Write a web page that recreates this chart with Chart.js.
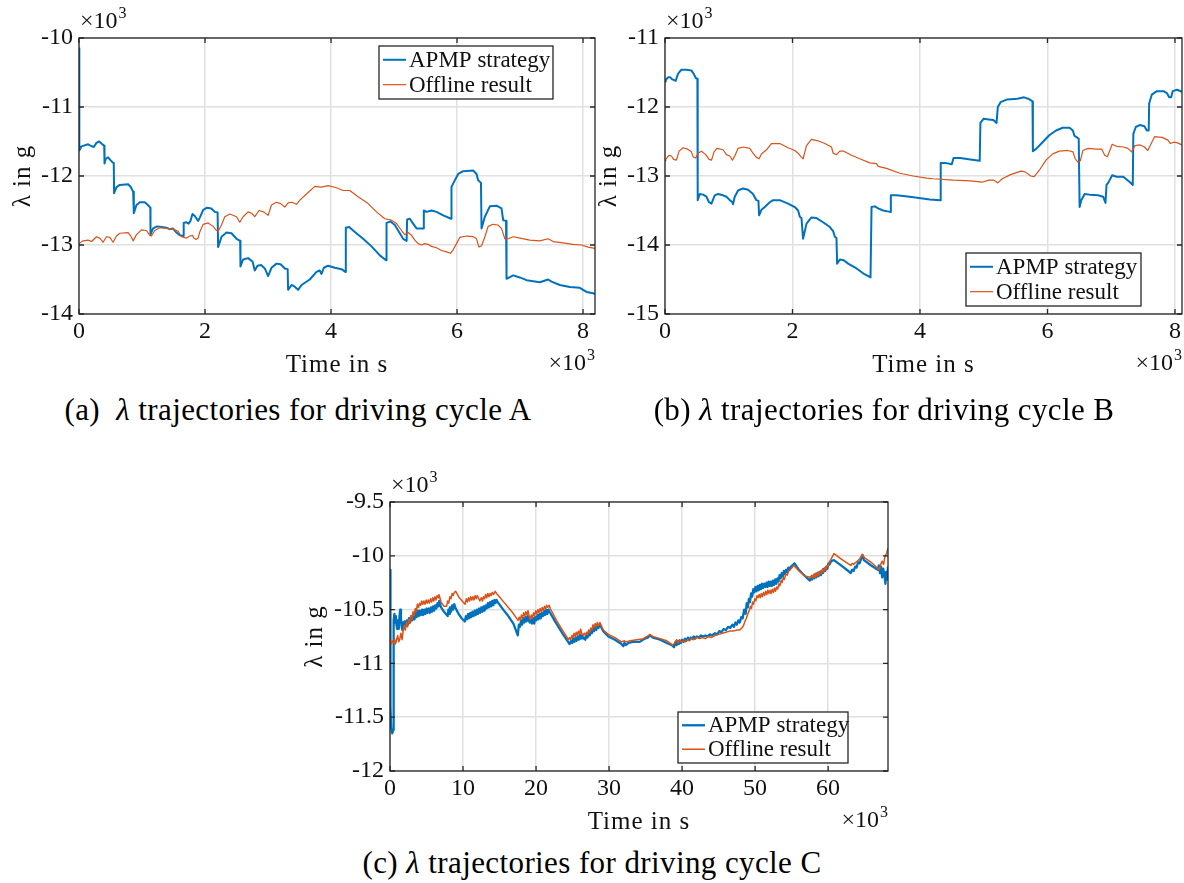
<!DOCTYPE html>
<html>
<head>
<meta charset="utf-8">
<title>λ trajectories</title>
<script src="https://cdn.jsdelivr.net/npm/chart.js@4.4.1/dist/chart.umd.min.js"></script>
<style>
  html, body { margin: 0; padding: 0; background: #fff; }
  body { position: relative; width: 1184px; height: 883px; overflow: hidden; font-family: 'Liberation Serif', 'DejaVu Serif', serif; color: #000; }
  canvas { position: absolute; }
  .caption { position: absolute; font-size: 31px; white-space: pre; transform: translate(-50%, -50%); letter-spacing: 0.4px; }
</style>
</head>
<body>
<canvas id="chartA" width="600" height="385" style="left:0;top:0"></canvas>
<canvas id="chartB" width="594" height="385" style="left:590px;top:0"></canvas>
<canvas id="chartC" width="600" height="385" style="left:300px;top:455px"></canvas>
<div class="caption" style="left:298px;top:410px">(a)  <i>λ</i> trajectories for driving cycle A</div>
<div class="caption" style="left:884px;top:410px">(b) <i>λ</i> trajectories for driving cycle B</div>
<div class="caption" style="left:592px;top:863px">(c) <i>λ</i> trajectories for driving cycle C</div>

<script>
// series names and tick values (axes are labelled in units of 10^3)
const SERIES_NAMES = ['APMP strategy', 'Offline result'];
const X_TICKS_AB = [0, 2, 4, 6, 8];
const X_TICKS_C = [0, 10, 20, 30, 40, 50, 60];
const Y_TICKS_A = [-14, -13, -12, -11, -10];
const Y_TICKS_B = [-15, -14, -13, -12, -11];
const Y_TICKS_C = [-12, -11.5, -11, -10.5, -10, -9.5];

// [time in s, lambda in g]
const cycleA_apmp = [[0,-10150],[5,-11630],[40,-11570],[145,-11540],[180,-11560],[235,-11580],[277,-11520],[320,-11500],[357,-11530],[383,-11550],[400,-11560],[405,-11820],[425,-11750],[462,-11730],[500,-11770],[541,-11810],[552,-11820],[557,-12250],[595,-12160],[648,-12130],[780,-12120],[822,-12160],[860,-12230],[870,-12540],[912,-12420],[965,-12380],[1044,-12380],[1081,-12410],[1124,-12450],[1132,-12460],[1135,-12850],[1176,-12760],[1240,-12730],[1310,-12740],[1387,-12750],[1441,-12770],[1490,-12760],[1537,-12810],[1600,-12860],[1652,-12870],[1660,-12870],[1663,-12680],[1700,-12670],[1740,-12690],[1770,-12650],[1801,-12550],[1838,-12580],[1891,-12650],[1920,-12600],[1971,-12490],[2033,-12460],[2100,-12470],[2156,-12520],[2200,-12530],[2208,-13030],[2262,-12880],[2341,-12820],[2420,-12830],[2500,-12910],[2558,-12940],[2563,-13310],[2605,-13210],[2684,-13190],[2754,-13240],[2790,-13370],[2833,-13300],[2890,-13290],[2949,-13340],[3002,-13450],[3055,-13330],[3135,-13270],[3200,-13280],[3267,-13340],[3312,-13350],[3319,-13650],[3373,-13580],[3420,-13600],[3478,-13650],[3532,-13580],[3663,-13500],[3770,-13390],[3820,-13370],[3849,-13420],[3886,-13330],[3954,-13300],[4060,-13330],[4167,-13350],[4228,-13390],[4235,-12750],[4288,-12740],[4378,-12810],[4510,-12910],[4643,-13020],[4775,-13150],[4874,-13220],[4881,-12680],[4944,-12660],[5013,-12710],[5092,-12830],[5145,-12910],[5200,-12940],[5208,-12630],[5251,-12620],[5303,-12690],[5357,-12760],[5465,-12760],[5473,-12500],[5516,-12520],[5595,-12500],[5675,-12520],[5780,-12570],[5905,-12620],[5912,-12160],[5938,-12110],[6018,-11970],[6097,-11930],[6256,-11920],[6310,-11970],[6335,-12060],[6380,-12100],[6389,-12760],[6442,-12590],[6521,-12440],[6627,-12430],[6706,-12470],[6733,-12640],[6778,-12650],[6786,-13490],[6891,-13440],[6997,-13470],[7103,-13510],[7315,-13540],[7446,-13500],[7500,-13530],[7632,-13580],[7790,-13610],[7949,-13620],[8055,-13680],[8161,-13700],[8190,-13710]];
const cycleA_offline = [[0,-12980],[65,-12940],[145,-12930],[200,-12950],[277,-12880],[330,-12900],[383,-12960],[436,-12880],[490,-12890],[541,-12960],[595,-12870],[648,-12830],[780,-12820],[822,-12870],[860,-12940],[912,-12850],[992,-12780],[1070,-12790],[1124,-12860],[1150,-12870],[1203,-12790],[1282,-12750],[1400,-12760],[1494,-12770],[1573,-12800],[1627,-12880],[1706,-12900],[1760,-12870],[1801,-12860],[1822,-12900],[1860,-12920],[1891,-12900],[1917,-12810],[1971,-12700],[2050,-12680],[2129,-12730],[2183,-12790],[2208,-12800],[2262,-12710],[2314,-12590],[2394,-12550],[2500,-12590],[2552,-12670],[2605,-12590],[2684,-12520],[2740,-12540],[2790,-12590],[2859,-12500],[2930,-12520],[3002,-12570],[3055,-12420],[3135,-12380],[3200,-12400],[3267,-12450],[3319,-12390],[3380,-12380],[3452,-12410],[3505,-12350],[3611,-12260],[3743,-12150],[3849,-12160],[3954,-12140],[4087,-12170],[4192,-12210],[4298,-12210],[4430,-12300],[4589,-12400],[4722,-12520],[4854,-12620],[4960,-12640],[5040,-12690],[5119,-12790],[5171,-12850],[5224,-12820],[5278,-12860],[5330,-12930],[5383,-12980],[5436,-13000],[5489,-12980],[5540,-12990],[5595,-13020],[5675,-13040],[5754,-13080],[5833,-13100],[5897,-13120],[5938,-13070],[5992,-12980],[6044,-12890],[6151,-12870],[6256,-12880],[6310,-12910],[6347,-13030],[6390,-13010],[6442,-12880],[6494,-12730],[6573,-12700],[6650,-12710],[6706,-12760],[6759,-12910],[6811,-12910],[6891,-12880],[6997,-12900],[7155,-12930],[7315,-12940],[7446,-12910],[7526,-12950],[7685,-12970],[7843,-12990],[7976,-13000],[8081,-13030],[8190,-13050]];

const cycleB_apmp = [[0,-11630],[11,-11610],[47,-11570],[80,-11570],[116,-11600],[168,-11620],[204,-11520],[257,-11460],[336,-11460],[414,-11470],[451,-11520],[482,-11580],[508,-11590],[513,-13350],[545,-13260],[597,-13270],[650,-13300],[691,-13380],[729,-13400],[780,-13280],[832,-13260],[911,-13280],[964,-13300],[1016,-13350],[1058,-13380],[1067,-13410],[1094,-13300],[1146,-13210],[1224,-13180],[1303,-13200],[1381,-13260],[1434,-13350],[1466,-13360],[1476,-13570],[1513,-13490],[1565,-13450],[1644,-13380],[1695,-13350],[1800,-13350],[1931,-13400],[2036,-13450],[2088,-13500],[2115,-13590],[2141,-13610],[2166,-13910],[2220,-13690],[2298,-13600],[2377,-13610],[2480,-13670],[2586,-13740],[2638,-13800],[2664,-13880],[2690,-13900],[2700,-14270],[2743,-14210],[2805,-14220],[2873,-14270],[3005,-14340],[3108,-14410],[3224,-14470],[3240,-13450],[3292,-13440],[3344,-13470],[3422,-13500],[3530,-13520],[3543,-13280],[3632,-13280],[3841,-13300],[4155,-13340],[4316,-13350],[4325,-12810],[4394,-12810],[4499,-12830],[4526,-12740],[4631,-12740],[4790,-12760],[4937,-12780],[4948,-12230],[5000,-12170],[5080,-12180],[5150,-12190],[5201,-12230],[5221,-12000],[5264,-11930],[5369,-11890],[5527,-11880],[5633,-11860],[5697,-11880],[5755,-11910],[5765,-11920],[5771,-12640],[5818,-12610],[5923,-12510],[6028,-12410],[6134,-12340],[6240,-12300],[6346,-12300],[6398,-12340],[6424,-12420],[6462,-12440],[6490,-12460],[6504,-13450],[6530,-13350],[6583,-13260],[6662,-13270],[6794,-13280],[6873,-13300],[6910,-13390],[6926,-13130],[6952,-13100],[7015,-12990],[7084,-13010],[7190,-13010],[7242,-13050],[7294,-13090],[7338,-13130],[7347,-12390],[7385,-12290],[7453,-12260],[7520,-12280],[7558,-12340],[7588,-12340],[7595,-11950],[7637,-11820],[7716,-11770],[7821,-11770],[7874,-11800],[7910,-11860],[7940,-11860],[7964,-11770],[8033,-11750],[8110,-11780]];
const cycleB_offline = [[0,-12780],[11,-12760],[63,-12700],[100,-12710],[137,-12760],[179,-12770],[220,-12640],[283,-12590],[350,-12610],[414,-12650],[440,-12720],[482,-12740],[518,-12670],[571,-12640],[639,-12690],[691,-12760],[730,-12770],[769,-12650],[816,-12600],[911,-12620],[964,-12690],[1016,-12710],[1058,-12770],[1100,-12700],[1146,-12600],[1224,-12580],[1330,-12600],[1381,-12670],[1434,-12730],[1476,-12750],[1513,-12680],[1592,-12620],[1670,-12530],[1800,-12530],[1931,-12590],[2036,-12630],[2088,-12670],[2141,-12730],[2166,-12750],[2220,-12560],[2298,-12470],[2402,-12490],[2507,-12530],[2612,-12580],[2638,-12670],[2690,-12690],[2743,-12640],[2805,-12640],[2926,-12700],[3083,-12760],[3214,-12810],[3318,-12820],[3344,-12860],[3476,-12890],[3684,-12960],[3894,-13000],[4103,-13030],[4209,-13040],[4526,-13060],[4790,-13070],[4973,-13090],[5080,-13060],[5160,-13060],[5221,-13100],[5290,-13040],[5422,-12980],[5581,-12930],[5650,-12940],[5738,-13000],[5791,-13010],[5870,-12920],[5977,-12770],[6082,-12680],[6187,-12640],[6319,-12630],[6400,-12650],[6435,-12750],[6478,-12800],[6515,-12780],[6556,-12630],[6636,-12600],[6768,-12610],[6850,-12610],[6898,-12700],[6940,-12720],[7015,-12540],[7084,-12570],[7190,-12580],[7260,-12600],[7320,-12650],[7373,-12560],[7453,-12550],[7520,-12580],[7573,-12630],[7610,-12560],[7680,-12430],[7796,-12440],[7890,-12480],[7928,-12530],[7980,-12510],[8040,-12520],[8110,-12550]];

const cycleC_apmp = [[0,-10130],[60,-11400],[150,-11600],[300,-11650],[450,-11620],[500,-10600],[600,-10540],[700,-10620],[800,-10560],[900,-10650],[1000,-10680],[1100,-10600],[1200,-10680],[1300,-10560],[1400,-10500],[1500,-10580],[1600,-10660],[1700,-10690],[1800,-10620],[1900,-10660],[2000,-10610],[2150,-10650],[2300,-10600],[2450,-10640],[2600,-10580],[2750,-10620],[2900,-10560],[3050,-10600],[3200,-10550],[3350,-10590],[3500,-10530],[3650,-10570],[3800,-10510],[3950,-10560],[4100,-10510],[4250,-10550],[4400,-10500],[4550,-10550],[4700,-10500],[4850,-10540],[5000,-10490],[5150,-10530],[5300,-10490],[5450,-10530],[5600,-10480],[5750,-10520],[5900,-10470],[6050,-10510],[6200,-10460],[6350,-10490],[6500,-10440],[6650,-10470],[6750,-10420],[7000,-10480],[7400,-10520],[7900,-10560],[8000,-10500],[8100,-10540],[8200,-10480],[8350,-10520],[8500,-10460],[8650,-10500],[8800,-10450],[9000,-10490],[9400,-10540],[9800,-10580],[10250,-10610],[10400,-10560],[10550,-10590],[10700,-10540],[10850,-10580],[11000,-10530],[11150,-10570],[11300,-10520],[11450,-10560],[11600,-10510],[11750,-10550],[11900,-10500],[12050,-10540],[12200,-10490],[12350,-10530],[12500,-10480],[12650,-10520],[12800,-10470],[12950,-10510],[13100,-10460],[13250,-10490],[13400,-10440],[13550,-10480],[13700,-10430],[13850,-10470],[14000,-10420],[14150,-10460],[14300,-10410],[14450,-10440],[14600,-10410],[14750,-10430],[15500,-10500],[16200,-10560],[16900,-10630],[17500,-10740],[17650,-10640],[17800,-10660],[17950,-10600],[18100,-10640],[18250,-10580],[18400,-10620],[18550,-10570],[18700,-10610],[18850,-10560],[19000,-10600],[19150,-10620],[19300,-10590],[19450,-10630],[19600,-10580],[19750,-10630],[19900,-10570],[20050,-10600],[20200,-10550],[20350,-10590],[20500,-10540],[20650,-10580],[20800,-10530],[20950,-10560],[21100,-10510],[21250,-10550],[21400,-10500],[21550,-10540],[21700,-10500],[21850,-10520],[22600,-10610],[23700,-10730],[24600,-10820],[24800,-10790],[24950,-10810],[25100,-10770],[25250,-10800],[25400,-10760],[25550,-10790],[25700,-10750],[25850,-10780],[26000,-10730],[26150,-10770],[26300,-10740],[26450,-10770],[26600,-10760],[26750,-10780],[26900,-10740],[27050,-10760],[27200,-10720],[27350,-10740],[27500,-10690],[27650,-10720],[27800,-10680],[27950,-10700],[28100,-10650],[28250,-10690],[28400,-10640],[28550,-10670],[28750,-10640],[29200,-10700],[29900,-10750],[30800,-10780],[31700,-10820],[31950,-10840],[32100,-10810],[32300,-10830],[32650,-10810],[33300,-10800],[34200,-10800],[34900,-10770],[35300,-10760],[35600,-10740],[36000,-10760],[37000,-10780],[37900,-10810],[38600,-10830],[38900,-10850],[39100,-10800],[39250,-10830],[39400,-10790],[39550,-10820],[39700,-10790],[39850,-10810],[40000,-10780],[40200,-10800],[40400,-10770],[40600,-10790],[40800,-10760],[41000,-10780],[41200,-10760],[41400,-10770],[41600,-10750],[41800,-10770],[42000,-10750],[42300,-10760],[42600,-10740],[42900,-10750],[43200,-10740],[43500,-10750],[43800,-10730],[44100,-10740],[44500,-10720],[44800,-10730],[45100,-10700],[45400,-10710],[45700,-10680],[46000,-10690],[46300,-10660],[46600,-10670],[46900,-10640],[47100,-10660],[47300,-10620],[47500,-10640],[47700,-10600],[47900,-10620],[48100,-10570],[48300,-10580],[48500,-10500],[48700,-10540],[48850,-10440],[49000,-10480],[49150,-10400],[49300,-10430],[49450,-10350],[49600,-10380],[49750,-10310],[49900,-10340],[50050,-10290],[50200,-10330],[50350,-10280],[50500,-10320],[50650,-10270],[50800,-10310],[50950,-10260],[51100,-10300],[51250,-10260],[51400,-10290],[51550,-10250],[51700,-10290],[51850,-10240],[52000,-10280],[52150,-10240],[52300,-10280],[52450,-10230],[52600,-10270],[52750,-10220],[52900,-10260],[53050,-10210],[53200,-10240],[53350,-10180],[53500,-10210],[53650,-10160],[53800,-10190],[53950,-10140],[54100,-10170],[54250,-10130],[54400,-10150],[54550,-10110],[54700,-10130],[54900,-10100],[55100,-10090],[55400,-10070],[56000,-10130],[56700,-10180],[57500,-10230],[57650,-10200],[57800,-10220],[57950,-10190],[58100,-10210],[58250,-10170],[58400,-10200],[58550,-10160],[58700,-10190],[58850,-10150],[59000,-10180],[59150,-10140],[59300,-10160],[59450,-10120],[59600,-10140],[59750,-10100],[59900,-10120],[60050,-10070],[60200,-10080],[60400,-10050],[60800,-10040],[62000,-10100],[63100,-10160],[63300,-10130],[63500,-10140],[63700,-10100],[63900,-10110],[64100,-10060],[64300,-10070],[64500,-10030],[64700,-9990],[64900,-10040],[65900,-10090],[66800,-10130],[66950,-10090],[67100,-10160],[67250,-10100],[67400,-10200],[67550,-10120],[67700,-10180],[67850,-10260],[67950,-10150],[68100,-10220],[68200,-10100]];
const cycleC_offline = [[0,-10780],[150,-10820],[300,-10790],[450,-10810],[600,-10770],[750,-10820],[900,-10780],[1050,-10740],[1200,-10800],[1350,-10770],[1500,-10720],[1650,-10780],[1800,-10700],[1950,-10650],[2100,-10690],[2250,-10620],[2400,-10660],[2550,-10590],[2700,-10630],[2850,-10560],[3000,-10590],[3150,-10520],[3300,-10560],[3450,-10490],[3600,-10520],[3750,-10450],[3900,-10480],[4050,-10440],[4200,-10460],[4350,-10420],[4500,-10450],[4650,-10420],[4800,-10450],[4950,-10410],[5100,-10440],[5250,-10410],[5400,-10440],[5550,-10400],[5700,-10430],[5850,-10390],[6000,-10420],[6150,-10380],[6300,-10410],[6450,-10370],[6600,-10390],[6700,-10360],[7000,-10430],[7400,-10470],[7750,-10470],[7900,-10420],[8050,-10440],[8200,-10380],[8350,-10400],[8500,-10350],[8650,-10370],[8800,-10340],[9000,-10330],[9500,-10390],[10000,-10430],[10270,-10450],[10450,-10400],[10600,-10430],[10750,-10390],[10900,-10420],[11050,-10380],[11200,-10410],[11350,-10380],[11500,-10410],[11650,-10370],[11800,-10400],[11950,-10370],[12100,-10390],[12300,-10420],[12500,-10390],[12650,-10420],[12800,-10380],[12950,-10400],[13100,-10360],[13250,-10390],[13400,-10350],[13550,-10380],[13700,-10350],[13850,-10370],[14000,-10340],[14200,-10360],[14400,-10330],[14600,-10350],[15700,-10440],[16700,-10520],[17550,-10600],[17700,-10570],[17850,-10600],[18000,-10550],[18150,-10580],[18300,-10530],[18450,-10560],[18600,-10520],[18750,-10550],[18900,-10510],[19050,-10560],[19200,-10590],[19350,-10550],[19500,-10580],[19650,-10530],[19800,-10560],[19950,-10510],[20100,-10540],[20250,-10500],[20400,-10530],[20550,-10490],[20700,-10520],[20850,-10480],[21000,-10510],[21150,-10470],[21300,-10490],[21450,-10460],[21600,-10480],[21800,-10460],[21950,-10490],[22800,-10600],[23700,-10700],[24450,-10780],[24600,-10760],[24750,-10780],[24900,-10740],[25050,-10760],[25200,-10720],[25350,-10750],[25500,-10710],[25650,-10740],[25800,-10700],[25950,-10730],[26100,-10680],[26250,-10720],[26450,-10740],[26600,-10720],[26750,-10740],[26900,-10710],[27050,-10730],[27200,-10690],[27350,-10710],[27500,-10670],[27650,-10690],[27800,-10640],[27950,-10670],[28100,-10630],[28250,-10660],[28400,-10620],[28550,-10650],[28750,-10620],[29200,-10690],[29900,-10730],[30800,-10760],[31700,-10800],[32100,-10790],[32300,-10800],[32900,-10790],[33800,-10780],[34700,-10770],[35200,-10750],[35600,-10730],[36000,-10750],[37000,-10770],[37900,-10790],[38700,-10830],[39000,-10810],[39250,-10780],[39450,-10810],[39650,-10780],[39850,-10800],[40100,-10790],[40400,-10800],[40700,-10780],[41000,-10790],[41300,-10770],[41600,-10780],[42000,-10760],[42400,-10770],[42800,-10760],[43200,-10770],[43600,-10750],[44000,-10760],[44500,-10740],[45000,-10730],[45500,-10720],[46000,-10710],[46500,-10700],[47000,-10700],[47500,-10690],[47900,-10690],[48200,-10670],[48400,-10650],[48600,-10610],[48800,-10580],[49000,-10540],[49200,-10510],[49350,-10470],[49500,-10490],[49650,-10430],[49800,-10450],[49950,-10400],[50100,-10420],[50250,-10370],[50400,-10390],[50550,-10360],[50700,-10390],[50850,-10350],[51000,-10380],[51150,-10340],[51300,-10370],[51450,-10330],[51600,-10360],[51750,-10320],[51900,-10350],[52050,-10320],[52200,-10350],[52350,-10310],[52500,-10340],[52650,-10300],[52800,-10330],[52950,-10290],[53100,-10310],[53250,-10260],[53400,-10280],[53550,-10230],[53700,-10250],[53850,-10200],[54000,-10220],[54200,-10170],[54400,-10180],[54600,-10140],[54800,-10130],[55300,-10090],[56000,-10140],[56900,-10190],[57600,-10200],[57750,-10180],[57900,-10210],[58050,-10170],[58200,-10200],[58350,-10160],[58500,-10190],[58650,-10150],[58800,-10180],[58950,-10140],[59100,-10160],[59250,-10120],[59400,-10150],[59550,-10110],[59700,-10130],[59850,-10090],[60000,-10100],[60150,-10060],[60400,-10030],[60800,-9980],[62000,-10040],[63100,-10090],[63300,-10070],[63500,-10080],[63800,-10060],[64000,-10050],[64300,-10030],[64700,-9990],[65000,-10020],[65900,-10060],[67000,-10130],[67200,-10080],[67400,-10050],[67600,-10080],[67800,-10000],[68000,-9980],[68200,-9930]];

const BLUE = '#0072BD';
const ORANGE = '#D95319';
const AXIS_COLOR = '#262626';
const FONT = "'Liberation Serif', 'DejaVu Serif', serif";

const toPoints = pairs => pairs.map(([t, v]) => ({ x: t, y: v }));

// "×10³" written with a raised exponent
function drawExponent(ctx, x, y, alignRight) {
  ctx.font = '24px ' + FONT;
  const base = '×10';
  const wb = ctx.measureText(base).width;
  ctx.font = '16px ' + FONT;
  const ws = ctx.measureText('3').width;
  const left = alignRight ? x - wb - ws - 1 : x;
  ctx.textAlign = 'left';
  ctx.textBaseline = 'alphabetic';
  ctx.font = '24px ' + FONT;
  ctx.fillText(base, left, y);
  ctx.font = '16px ' + FONT;
  ctx.fillText('3', left + wb + 1, y - 10);
}

// box, inward ticks, axis titles, exponents and legend, MATLAB style
function decorations(p) {
  return {
    id: 'decor',
    afterDatasetsDraw(chart) {
      const { ctx, chartArea: a, scales: { x, y } } = chart;
      ctx.save();
      ctx.strokeStyle = AXIS_COLOR;
      ctx.lineWidth = 1.3;
      ctx.beginPath();
      x.ticks.forEach(t => {
        const px = x.getPixelForValue(t.value);
        ctx.moveTo(px, a.bottom); ctx.lineTo(px, a.bottom - 5);
        ctx.moveTo(px, a.top); ctx.lineTo(px, a.top + 5);
      });
      y.ticks.forEach(t => {
        const py = y.getPixelForValue(t.value);
        ctx.moveTo(a.left, py); ctx.lineTo(a.left + 5, py);
        ctx.moveTo(a.right, py); ctx.lineTo(a.right - 5, py);
      });
      ctx.stroke();
      ctx.strokeRect(a.left, a.top, a.right - a.left, a.bottom - a.top);

      ctx.fillStyle = '#111';
      drawExponent(ctx, a.left + 1, a.top - 10, false);
      drawExponent(ctx, a.right, a.bottom + 56, true);

      ctx.font = '25px ' + FONT;
      ctx.letterSpacing = '1px';
      ctx.textAlign = 'center';
      ctx.textBaseline = 'alphabetic';
      ctx.fillText('Time in s', (a.left + a.right) / 2, a.bottom + 58);
      ctx.save();
      ctx.translate(p.yTitleX, (a.top + a.bottom) / 2);
      ctx.rotate(-Math.PI / 2);
      ctx.textBaseline = 'middle';
      ctx.fillText('λ in g', 0, 0);
      ctx.restore();
      ctx.letterSpacing = '0px';

      const lg = p.legend;
      ctx.fillStyle = '#fff';
      ctx.fillRect(lg.x, lg.y, lg.w, lg.h);
      ctx.strokeStyle = AXIS_COLOR;
      ctx.lineWidth = 1.3;
      ctx.strokeRect(lg.x, lg.y, lg.w, lg.h);
      ctx.font = '23px ' + FONT;
      ctx.textAlign = 'left';
      ctx.textBaseline = 'middle';
      chart.data.datasets.forEach((ds, i) => {
        const ry = lg.y + lg.h * (0.26 + 0.47 * i);
        ctx.strokeStyle = ds.borderColor;
        ctx.lineWidth = ds.borderWidth;
        ctx.beginPath();
        ctx.moveTo(lg.x + 4, ry);
        ctx.lineTo(lg.x + 27, ry);
        ctx.stroke();
        ctx.fillStyle = '#111';
        ctx.fillText(ds.label, lg.x + 30, ry + 1);
      });
      ctx.restore();
    }
  };
}

function buildChart(id, p) {
  const canvas = document.getElementById(id);
  return new Chart(canvas, {
    type: 'line',
    data: {
      datasets: [
        { label: SERIES_NAMES[0], data: toPoints(p.apmp), borderColor: BLUE, borderWidth: p.apmpWidth, order: 1 },
        { label: SERIES_NAMES[1], data: toPoints(p.offline), borderColor: ORANGE, borderWidth: p.offWidth, order: 0 }
      ]
    },
    options: {
      responsive: false,
      animation: false,
      events: [],
      layout: { padding: { top: p.area.top, right: canvas.width - p.area.right, left: 0, bottom: 0 } },
      elements: { point: { radius: 0 }, line: { tension: 0, borderJoinStyle: 'round' } },
      plugins: { legend: { display: false }, tooltip: { enabled: false } },
      scales: {
        x: {
          type: 'linear',
          min: 0,
          max: p.xMax,
          border: { display: false },
          grid: { color: '#e0e0e0', lineWidth: 1.5, drawTicks: false },
          ticks: { font: { family: FONT, size: 24 }, color: '#111', padding: 3, maxRotation: 0,
                   callback: v => String(v / 1000) },
          afterBuildTicks: s => { s.ticks = p.xTicks.map(v => ({ value: v * 1000 })); },
          afterFit: s => { s.height = canvas.height - p.area.bottom; }
        },
        y: {
          type: 'linear',
          min: p.yMin,
          max: p.yMax,
          border: { display: false },
          grid: { color: '#e0e0e0', lineWidth: 1.5, drawTicks: false },
          ticks: { font: { family: FONT, size: 24 }, color: '#111', padding: 6,
                   callback: v => String(v / 1000) },
          afterBuildTicks: s => { s.ticks = p.yTicks.map(v => ({ value: v * 1000 })); },
          afterFit: s => { s.width = p.area.left; }
        }
      }
    },
    plugins: [decorations(p)]
  });
}

buildChart('chartA', {
  apmp: cycleA_apmp, offline: cycleA_offline, apmpWidth: 2, offWidth: 1.2,
  xMax: 8190, yMin: -14000, yMax: -10000, xTicks: X_TICKS_AB, yTicks: Y_TICKS_A,
  area: { left: 79, top: 38, right: 595, bottom: 314 },
  yTitleX: 23,
  legend: { x: 379, y: 46, w: 174, h: 53 }
});

buildChart('chartB', {
  apmp: cycleB_apmp, offline: cycleB_offline, apmpWidth: 2, offWidth: 1.2,
  xMax: 8110, yMin: -15000, yMax: -11000, xTicks: X_TICKS_AB, yTicks: Y_TICKS_B,
  area: { left: 75, top: 38, right: 592, bottom: 314 },
  yTitleX: 19,
  legend: { x: 376, y: 253, w: 175, h: 53 }
});

buildChart('chartC', {
  apmp: cycleC_apmp, offline: cycleC_offline, apmpWidth: 2.3, offWidth: 1.5,
  xMax: 68200, yMin: -12000, yMax: -9500, xTicks: X_TICKS_C, yTicks: Y_TICKS_C,
  area: { left: 90, top: 47, right: 588, bottom: 316 },
  yTitleX: 15,
  legend: { x: 378, y: 257, w: 170, h: 51 }
});
</script>
</body>
</html>
